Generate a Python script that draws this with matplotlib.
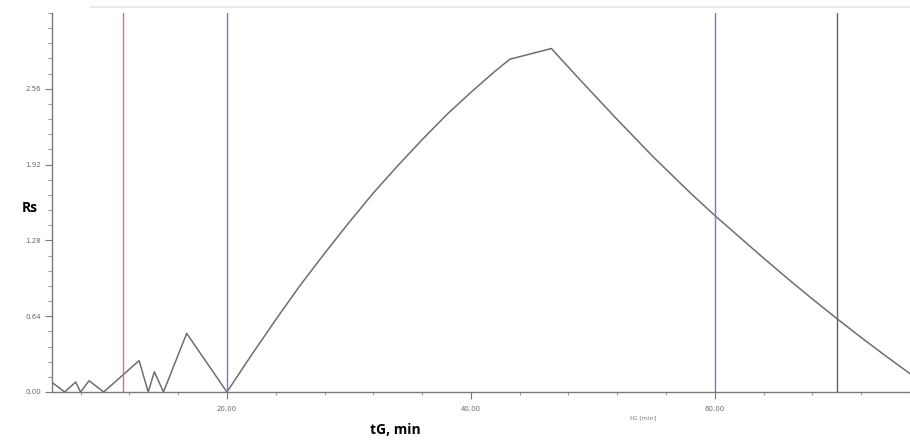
import matplotlib
matplotlib.use("Agg")
import matplotlib.pyplot as plt
from matplotlib.ticker import MultipleLocator, FixedLocator, FormatStrFormatter

# resolution curve
tg = [5.7, 6.7, 7.6, 8.0, 8.7, 9.9, 12.8, 13.55, 14.05, 14.8, 16.7, 20.0,
      22.0, 24.0, 26.0, 28.0, 30.0, 32.0, 34.0, 36.0, 38.0, 40.0, 42.0, 43.2, 46.6,
      49.0, 52.0, 55.0, 58.0, 60.0, 62.0, 64.0, 66.0, 68.0, 70.0, 72.0, 74.0, 76.0]
rs = [0.078, 0.0, 0.084, 0.0, 0.095, 0.0, 0.265, 0.0, 0.171, 0.0, 0.495, 0.0,
      0.31, 0.61, 0.90, 1.17, 1.43, 1.68, 1.91, 2.13, 2.34, 2.53, 2.71, 2.81, 2.90,
      2.63, 2.30, 1.98, 1.68, 1.49, 1.31, 1.13, 0.955, 0.785, 0.62, 0.46, 0.305, 0.155]

red_line = 11.5
blue_lines = [20.0, 60.0]
dark_line = 70.0
y_labels = [0.0, 0.64, 1.28, 1.92, 2.56]

fig = plt.figure(figsize=(9.1, 4.42), dpi=100)
ax = fig.add_axes([52 / 910, 50 / 442, 858 / 910, 379 / 442])

ax.plot(tg, rs, color="#6e6e6e", lw=1.1)
ax.axvline(red_line, color="#e07080", lw=1.0)
for b in blue_lines:
    ax.axvline(b, color="#7878cc", lw=1.0)
ax.axvline(dark_line, color="#606060", lw=1.0)

ax.set_xlim(5.66, 76.0)
ax.set_ylim(0, 3.2)

ax.xaxis.set_major_locator(MultipleLocator(20))
ax.xaxis.set_minor_locator(MultipleLocator(4))
ax.yaxis.set_major_locator(FixedLocator(y_labels))
ax.yaxis.set_minor_locator(MultipleLocator(0.128))
ax.xaxis.set_major_formatter(FormatStrFormatter("%.2f"))
ax.yaxis.set_major_formatter(FormatStrFormatter("%.2f"))

for s in ["top", "right"]:
    ax.spines[s].set_visible(False)
for s in ["left", "bottom"]:
    ax.spines[s].set_color("#7a7a7a")
    ax.spines[s].set_linewidth(1.0)

ax.tick_params(which="major", length=5, width=0.8, color="#7a7a7a",
               labelsize=5, labelcolor="#6a6a6a", pad=3)
ax.tick_params(axis="x", which="major", pad=5)
ax.tick_params(which="minor", length=3, width=0.8, color="#9a9a9a")
ax.tick_params(axis="x", which="minor", length=2)

fig.text(22 / 910, 1 - 208 / 442, "Rs", fontsize=10, fontweight="bold",
         family="Open Sans", ha="left", va="center")
fig.text(395 / 910, 1 - 430 / 442, "tG, min", fontsize=10, fontweight="bold",
         family="Open Sans", ha="center", va="center")
fig.text(643 / 910, 1 - 418 / 442, "tG [min]", fontsize=4.5, color="#777777",
         ha="center", va="center")

# faint frame line along the top
fig.add_artist(plt.Line2D([90 / 910, 1], [1 - 7 / 442, 1 - 7 / 442],
                          color="#e4e4e4", lw=1.2))

fig.savefig("out.png", dpi=100)
